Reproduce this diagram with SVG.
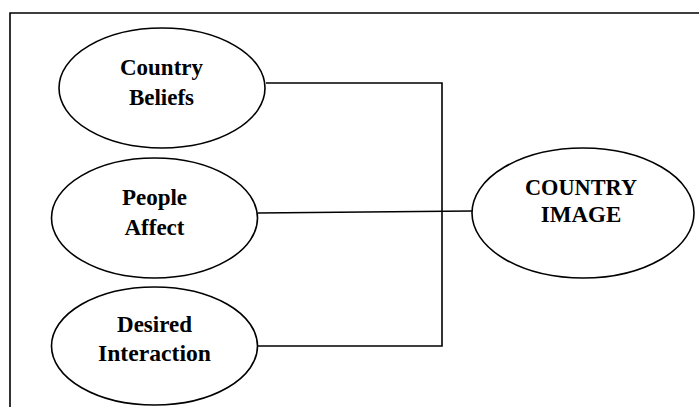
<svg xmlns="http://www.w3.org/2000/svg" width="699" height="407" viewBox="0 0 699 407">
<style>
.node ellipse{fill:#fff;stroke:#000;stroke-width:1.6}
.node text{font-family:"Liberation Serif","Times New Roman",serif;font-weight:bold;font-size:23px;fill:#000;text-anchor:middle}
.conn{fill:none;stroke:#000;stroke-width:1.6}
.frame{fill:none;stroke:#000;stroke-width:1.6}
</style>
<rect width="699" height="407" fill="#fff"/>
<path class="frame" d="M10,410 V13 H702"/>
<g id="connectors">
<path class="conn" d="M266,83 H442 V346 H258"/>
<path class="conn" d="M258,213 L472,211"/>
</g>
<g id="country-beliefs" class="node">
<ellipse cx="162" cy="88" rx="103" ry="60"/>
<text x="161.5" y="75" textLength="83" lengthAdjust="spacingAndGlyphs">Country</text>
<text x="161.5" y="105">Beliefs</text>
</g>
<g id="people-affect" class="node">
<ellipse cx="154.5" cy="218" rx="103" ry="60"/>
<text x="154.5" y="205">People</text>
<text x="154.5" y="235">Affect</text>
</g>
<g id="desired-interaction" class="node">
<ellipse cx="154.5" cy="346" rx="103" ry="59"/>
<text x="154.5" y="332">Desired</text>
<text x="154.5" y="361" textLength="113" lengthAdjust="spacingAndGlyphs">Interaction</text>
</g>
<g id="country-image" class="node">
<ellipse cx="583" cy="213" rx="111" ry="65"/>
<text x="581" y="195" textLength="112" lengthAdjust="spacingAndGlyphs">COUNTRY</text>
<text x="581" y="222">IMAGE</text>
</g>
</svg>
